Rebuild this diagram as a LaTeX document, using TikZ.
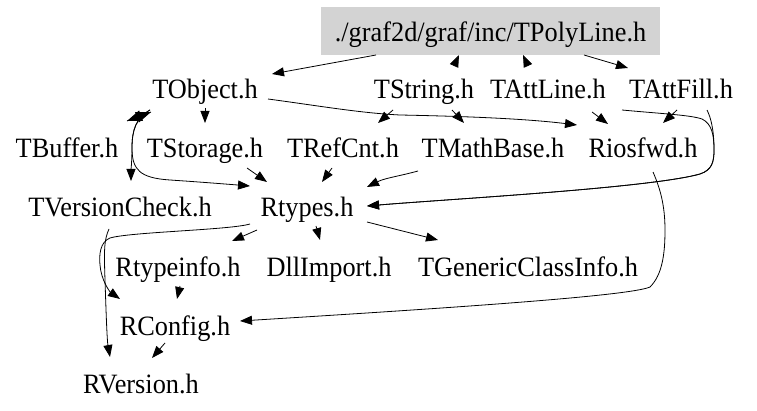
\documentclass[tikz,border=0pt]{standalone}
\usepackage{fontspec}
\setmainfont[FakeStretch=0.94]{Liberation Serif}
\usetikzlibrary{arrows.meta}
\definecolor{rootgray}{RGB}{211,211,211}
\tikzset{
  lbl/.style={anchor=base, inner sep=0pt, font=\fontsize{28}{32}\selectfont},
  rootbox/.style={fill=rootgray, inner sep=0pt, minimum width=339pt, minimum height=48pt,
    text height=21pt, text depth=0pt, font=\fontsize{28}{32}\selectfont},
  arr/.style={draw=black, line width=0.8pt, -{Triangle[length=12pt,width=9pt]}},
  arrbig/.style={draw=black, line width=0.8pt, -{Triangle[length=15pt,width=11pt]}},
}
\begin{document}
\begin{tikzpicture}[x=1pt,y=-1pt]
\useasboundingbox (0,0) rectangle (757,411);
\fill[white] (0,0) rectangle (757,411);
% nodes
\node[rootbox] (root) at (490.5,31) {./graf2d/graf/inc/TPolyLine.h};
\node[lbl] (tobj) at (205,99) {TObject.h};
\node[lbl] (tstr) at (424,99) {TString.h};
\node[lbl] (tatl) at (548,99) {TAttLine.h};
\node[lbl] (tatf) at (681,99) {TAttFill.h};
\node[lbl] (tbuf) at (67,158) {TBuffer.h};
\node[lbl] (tsto) at (205,158) {TStorage.h};
\node[lbl] (tref) at (343,158) {TRefCnt.h};
\node[lbl] (tmat) at (493,158) {TMathBase.h};
\node[lbl] (rios) at (643,158) {Riosfwd.h};
\node[lbl] (tver) at (120,217) {TVersionCheck.h};
\node[lbl] (rtyp) at (307,217) {Rtypes.h};
\node[lbl] (rtin) at (178,277) {Rtypeinfo.h};
\node[lbl] (dll) at (329,277) {DllImport.h};
\node[lbl] (tgen) at (528,277) {TGenericClassInfo.h};
\node[lbl] (rcon) at (175,335) {RConfig.h};
\node[lbl] (rver) at (141,393) {RVersion.h};
% edges from the root
\draw[arr] ([shift={(-114.5,24)}]root.center) -- ([shift={(67,-25)}]tobj.base);
\draw[arr] ([shift={(30,-33)}]tstr.base) -- ([shift={(-31.5,24)}]root.center);
\draw[arr] ([shift={(-20,-33)}]tatl.base) -- ([shift={(32.5,24)}]root.center);
\draw[arr] ([shift={(93.5,24)}]root.center) -- ([shift={(-53,-31)}]tatf.base);
% TObject
\draw[arr] ([shift={(0,9)}]tobj.base) -- ([shift={(0,-35)}]tsto.base);
\draw[arrbig] ([shift={(-54,13)}]tobj.base) -- ([shift={(60,-37)}]tbuf.base);
\draw[arrbig] ([shift={(60,-37)}]tbuf.base) -- ([shift={(-54,13)}]tobj.base);
\draw[arr] ([shift={(-55,11)}]tobj.base) .. controls (136,118) and (132,130) .. (132,148)
  .. controls (132,160) and (131,170) .. ([shift={(11,-36)}]tver.base);
\draw[arr] ([shift={(-55,11)}]tobj.base) .. controls (136,118) and (132,130) .. (132,148)
  .. controls (132,170) and (140,178) .. (170,180)
  .. controls (200,182) and (225,184) .. ([shift={(-57,-31)}]rtyp.base);
\draw[arr] ([shift={(63,0)}]tobj.base) .. controls (320,106) and (360,113) .. (400,115)
  .. controls (450,116) and (520,118) .. ([shift={(-66,-33)}]rios.base);
% TString
\draw[arr] ([shift={(-31,11)}]tstr.base) -- ([shift={(35,-35)}]tref.base);
\draw[arr] ([shift={(28,11)}]tstr.base) -- ([shift={(-29,-35)}]tmat.base);
% TAttLine / TAttFill
\draw[arr] ([shift={(44,13)}]tatl.base) -- ([shift={(-35,-34)}]rios.base);
\draw[arr] ([shift={(-4,11)}]tatf.base) -- ([shift={(20,-35)}]rios.base);
\draw[arr] ([shift={(74,11)}]tatl.base) .. controls (665,114) and (690,115) .. (702,119)
  .. controls (712,124) and (714,135) .. (714,150)
  .. controls (714,162) and (712,170) .. (700,174)
  .. controls (650,188) and (450,199) .. ([shift={(60,-11)}]rtyp.base);
\draw[arr] ([shift={(26,11)}]tatf.base) .. controls (711,118) and (714,130) .. (714,150)
  .. controls (714,162) and (712,170) .. (700,174)
  .. controls (650,188) and (450,199) .. ([shift={(60,-11)}]rtyp.base);
% Riosfwd
\draw[arr] ([shift={(10,14)}]rios.base) .. controls (660,188) and (665,205) .. (665,230)
  .. controls (665,255) and (662,275) .. (650,287)
  .. controls (630,296) and (450,308) .. ([shift={(65,-14)}]rcon.base);
% second row to Rtypes
\draw[arr] ([shift={(42,10)}]tsto.base) -- ([shift={(-40,-35)}]rtyp.base);
\draw[arr] ([shift={(-11,10)}]tref.base) -- ([shift={(15,-35)}]rtyp.base);
\draw[arr] ([shift={(-75,13)}]tmat.base) .. controls (400,176) and (385,178) .. ([shift={(60,-30)}]rtyp.base);
% Rtypes
\draw[arr] ([shift={(-57,7)}]rtyp.base) .. controls (230,230) and (130,232) .. (110,238)
  .. controls (100,242) and (99,255) .. (100,265)
  .. controls (101,280) and (110,292) .. ([shift={(-55,-36)}]rcon.base);
\draw[arr] ([shift={(-50,13)}]rtyp.base) -- ([shift={(54,-36)}]rtin.base);
\draw[arr] ([shift={(9,9)}]rtyp.base) -- ([shift={(-9,-37)}]dll.base);
\draw[arr] ([shift={(60,5)}]rtyp.base) -- ([shift={(-90,-37)}]tgen.base);
% TVersionCheck
\draw[arr] ([shift={(-11,12)}]tver.base) .. controls (104,240) and (104,250) .. (105,280)
  .. controls (106,310) and (107,340) .. ([shift={(-31,-36)}]rver.base);
% lower
\draw[arr] ([shift={(2,9)}]rtin.base) -- ([shift={(2,-36)}]rcon.base);
\draw[arr] ([shift={(-10,8)}]rcon.base) -- ([shift={(11,-35)}]rver.base);
\end{tikzpicture}
\end{document}
